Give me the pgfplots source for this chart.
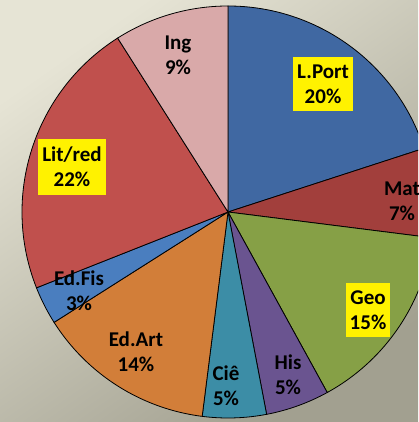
\documentclass[border=0pt]{standalone}
\usepackage{pgfplots}
\pgfplotsset{compat=1.18}
\usepackage{fontspec}
\setmainfont{Carlito}
\definecolor{cLP}{HTML}{4068A2}
\definecolor{cMat}{HTML}{A23F3C}
\definecolor{cGeo}{HTML}{86A046}
\definecolor{cHis}{HTML}{6A5490}
\definecolor{cCie}{HTML}{3C8DA6}
\definecolor{cArt}{HTML}{D27E39}
\definecolor{cFis}{HTML}{4A7EBF}
\definecolor{cLit}{HTML}{C0504D}
\definecolor{cIng}{HTML}{D9A9A9}
\definecolor{bgUL}{HTML}{E6E4D5}
\definecolor{bgLR}{HTML}{A2A090}
% #1 = cumulative percentage before the slice, #2 = slice percentage, #3 = colour
\newcommand{\slice}[3]{%
  \fill[#3, draw=black, line width=0.8pt] (axis cs:228,210) -- ++({90-3.6*#1}:206pt)
    arc[start angle={90-3.6*#1}, delta angle={-3.6*#2}, radius=206pt] -- cycle;}
\tikzset{lbl/.style={font=\fontsize{21}{25}\selectfont\bfseries, align=center, text=black, inner xsep=4pt, inner ysep=8pt}}
\begin{document}
\begin{tikzpicture}
\useasboundingbox (0,0) rectangle (418pt,422pt);
\clip (0,0) rectangle (418pt,422pt);
\begin{axis}[at={(0,0)}, anchor=origin, scale only axis, width=418pt, height=422pt,
  xmin=0, xmax=418, ymin=0, ymax=422, hide axis, clip=true]
\shade[top color=bgUL, bottom color=bgLR, shading angle=35]
  (axis cs:0,0) rectangle (axis cs:418,422);
\slice{0}{20}{cLP}
\slice{20}{7}{cMat}
\slice{27}{15}{cGeo}
\slice{42}{5}{cHis}
\slice{47}{5}{cCie}
\slice{52}{14}{cArt}
\slice{66}{3}{cFis}
\slice{69}{22}{cLit}
\slice{91}{9}{cIng}
\node[lbl, fill=yellow] at (axis cs:323,338) {L.Port\\20\%};
\node[lbl] at (axis cs:402,221) {Mat\\7\%};
\node[lbl, fill=yellow] at (axis cs:368,112) {Geo\\15\%};
\node[lbl] at (axis cs:288,47) {His\\5\%};
\node[lbl] at (axis cs:226,36) {Ciê\\5\%};
\node[lbl] at (axis cs:136,70) {Ed.Art\\14\%};
\node[lbl] at (axis cs:79,131) {Ed.Fis\\3\%};
\node[lbl, fill=yellow] at (axis cs:72,255) {Lit/red\\22\%};
\node[lbl] at (axis cs:178,367) {Ing\\9\%};
\end{axis}
\end{tikzpicture}
\end{document}
